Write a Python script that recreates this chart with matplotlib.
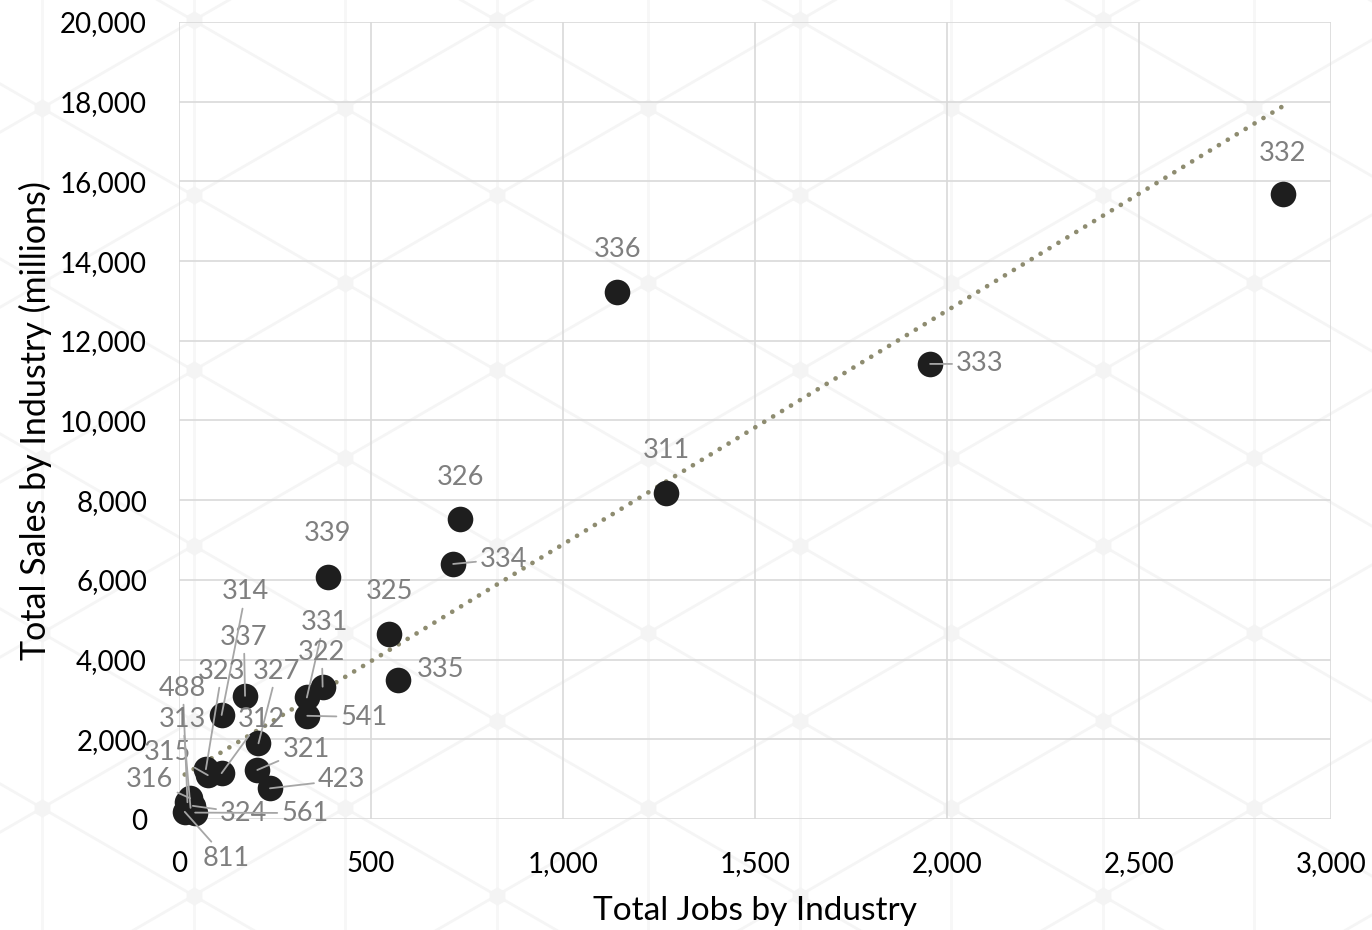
import matplotlib.pyplot as plt
import numpy as np

# jobs vs sales for each NAICS industry code
codes = ["332", "333", "336", "311", "326", "334", "339", "325", "335",
         "337", "314", "327", "321", "423", "312", "323", "315", "541",
         "331", "322", "488", "313", "316", "324", "561", "811"]
jobs = [2875, 1956, 1141, 1268, 732, 714, 388, 547, 570,
        172, 111, 207, 204, 237, 111, 70, 75, 334,
        333, 374, 22, 30, 29, 36, 42, 15]
sales = [15680, 11420, 13220, 8180, 7530, 6400, 6070, 4640, 3490,
         3090, 2610, 1900, 1230, 770, 1150, 1250, 1100, 2590,
         3050, 3320, 420, 280, 520, 330, 160, 180]

# where each code label sits, and whether it gets a leader line
label_pos = {
    "332": (2875, 16712), "333": (2086, 11418), "336": (1141, 14302),
    "311": (1268, 9235), "326": (732, 8581), "334": (846, 6524),
    "339": (388, 7152), "325": (547, 5697), "335": (682, 3764),
    "314": (174, 5697), "337": (169, 4566), "323": (112, 3713),
    "327": (255, 3713), "488": (10, 3287), "313": (10, 2509),
    "312": (214, 2509), "315": (-31, 1681), "316": (-76, 979),
    "324": (169, 150), "561": (328, 150), "811": (122, -979),
    "321": (331, 1756), "423": (424, 979), "541": (482, 2559),
    "331": (378, 4943), "322": (372, 4190),
}
no_leader = {"332", "336", "311", "326", "339", "325", "335"}

fig = plt.figure(figsize=(13.72, 9.3), dpi=100)

# faint diamond-lattice backdrop
bg = fig.add_axes([0, 0, 1, 1], zorder=-5)
bg.set_xlim(0, 1372)
bg.set_ylim(930, 0)
bg.axis("off")
s = 87.5 / 151.5
xx = np.array([-100, 1500])
for j in range(-12, 14):
    bg.plot(xx, 108 + s * (xx - 42) + 175 * j, color="#f5f5f5", lw=2.0)
    bg.plot(xx, 108 - s * (xx - 42) + 175 * j, color="#f5f5f5", lw=2.0)
for i in range(-1, 11):
    cx = 42 + 151.5 * i
    bg.axvline(cx, color="#f7f7f7", lw=2.0)
    ys = np.arange(-8, 8) * 175 + 108 + 87.5 * (i % 2)
    bg.plot(np.full_like(ys, cx), ys, "h", color="#f4f4f4", ms=12, ls="none")

ax = fig.add_axes([179 / 1372, 1 - 819 / 930, 1152 / 1372, 797 / 930])
ax.set_facecolor("none")

ax.scatter(jobs, sales, s=340, color="#1e1e1e", zorder=3, linewidths=0,
           clip_on=False)

# linear trendline
m, b = np.polyfit(jobs, sales, 1)
tx = np.array([min(jobs), max(jobs)])
ax.plot(tx, m * tx + b, color="#8e8c70", lw=3.4, linestyle=(0, (0.01, 2.2)),
        dash_capstyle="round", zorder=2)

for c, x, y in zip(codes, jobs, sales):
    lx, ly = label_pos[c]
    arrow = None
    if c not in no_leader:
        arrow = dict(arrowstyle="-", color="#a6a6a6", lw=1.3, shrinkA=1, shrinkB=0)
    ax.annotate(c, xy=(x, y), xytext=(lx, ly), textcoords="data",
                ha="center", va="center", fontsize=19.5, color="#7f7f7f",
                family="Lato", arrowprops=arrow, annotation_clip=False, zorder=4)

ax.set_xlim(0, 3000)
ax.set_ylim(0, 20000)
ax.set_xticks(np.arange(0, 3001, 500))
ax.set_yticks(np.arange(0, 20001, 2000))
ax.xaxis.set_major_formatter(lambda v, p: f"{v:,.0f}")
ax.yaxis.set_major_formatter(lambda v, p: f"{v:,.0f}")
ax.grid(True, color="#d9d9d9", lw=1.2)
ax.set_axisbelow(True)
for sp in ax.spines.values():
    sp.set_visible(False)
ax.tick_params(length=0, labelsize=20)
ax.tick_params(axis="x", pad=23)
ax.tick_params(axis="y", pad=23)
for t in ax.get_xticklabels() + ax.get_yticklabels():
    t.set_family("Lato")

ax.set_xlabel("Total Jobs by Industry", fontsize=24, family="Lato", labelpad=14)
ax.set_ylabel("Total Sales by Industry (millions)", fontsize=24.5, family="Lato", labelpad=6)

fig.savefig("out.png", dpi=100)
